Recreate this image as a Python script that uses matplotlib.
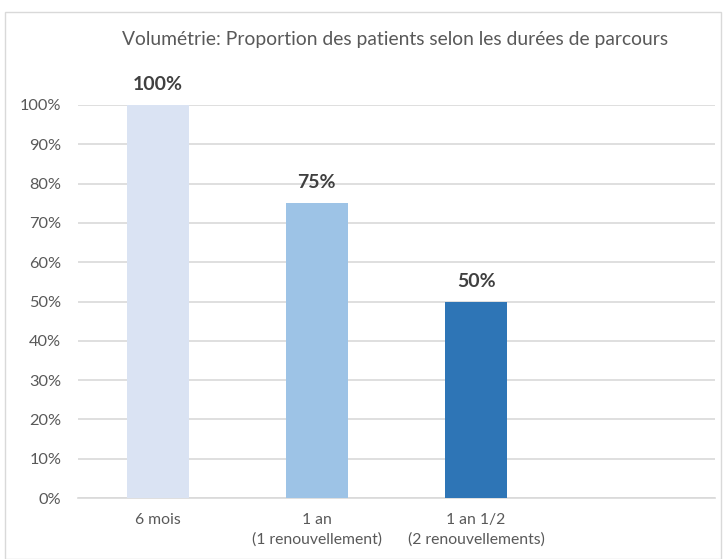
import matplotlib
matplotlib.use("Agg")
import matplotlib.pyplot as plt
from matplotlib.patches import Rectangle
from matplotlib.ticker import PercentFormatter

categories = ["6 mois", "1 an\n(1 renouvellement)", "1 an 1/2\n(2 renouvellements)", ""]
values = [100, 75, 50, None]
colors = ["#DAE3F3", "#9DC3E6", "#2E75B6", "#FFFFFF"]
title = "Volumétrie: Proportion des patients selon les durées de parcours"

plt.rcParams['font.family'] = ['Lato', 'DejaVu Sans']
W, H = 726, 559
fig = plt.figure(figsize=(W/100, H/100), dpi=100)
fig.patches.append(Rectangle((5/W, 0), (721-5)/W, 1-12/H, transform=fig.transFigure,
                             fill=False, edgecolor="#D9D9D9", linewidth=1.0))
ax = fig.add_axes([78/W, 1-498/H, (715-78)/W, (498-105)/H])

xs = list(range(len(categories)))
for x, v, c in zip(xs, values, colors):
    if v is None:
        continue
    ax.bar(x, v, width=0.39, color=c, zorder=3)
    ax.text(x, v + 3, f"{v}%", ha="center", va="bottom", fontsize=14,
            fontweight="bold", color="#404040")

ax.set_xlim(-0.5, len(categories) - 0.5)
ax.set_ylim(0, 100)
ax.set_yticks(range(0, 101, 10))
ax.yaxis.set_major_formatter(PercentFormatter(decimals=0))
ax.set_xticks(xs)
ax.set_xticklabels(categories, fontsize=11.3, color="#595959", linespacing=1.45)
ax.tick_params(axis="y", labelsize=11.8, labelcolor="#595959", length=0, pad=12)
ax.tick_params(axis="x", length=0, pad=11)
ax.grid(axis="y", color="#D9D9D9", linewidth=1.2, zorder=0)
for s in ["top", "right", "left"]:
    ax.spines[s].set_visible(False)
ax.spines["bottom"].set_color("#D9D9D9")
ax.spines["bottom"].set_linewidth(1.2)

fig.text(395/W, 1-40/H, title, ha="center", va="center", fontsize=13.9, color="#595959")

fig.savefig("out.png", dpi=100)
